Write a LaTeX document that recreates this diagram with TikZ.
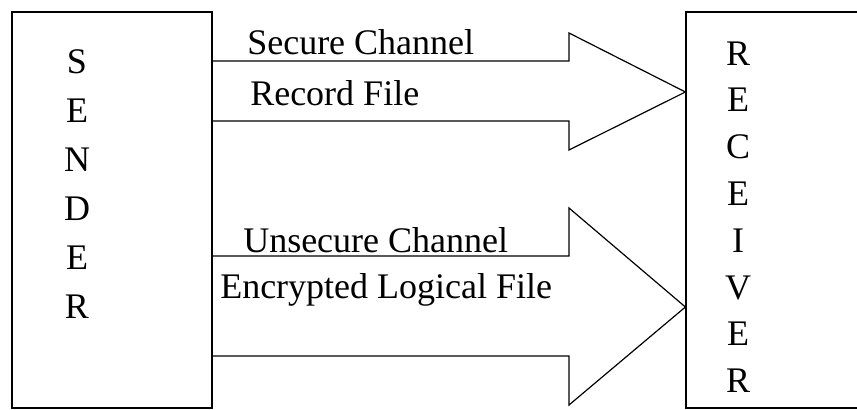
\documentclass[tikz,border=0pt]{standalone}
\usepackage{fontspec}
\setmainfont{Liberation Serif}
\begin{document}
\begin{tikzpicture}[x=0.75pt,y=-0.75pt,
  box/.style={draw, line width=0.9pt, rectangle, inner sep=0pt},
  flow/.style={draw, line width=0.9pt, line join=miter},
  letter/.style={anchor=base, inner sep=0pt, font=\fontsize{27}{32}\selectfont},
  label/.style={anchor=base west, inner sep=0pt, font=\fontsize{27}{32}\selectfont}]
  \path[use as bounding box] (0,0) rectangle (857,410);
  \clip (0,0) rectangle (857,410);

  % end boxes
  \node[box, minimum width=150pt, minimum height=297pt] (sender) at (112,210) {};
  \node[box, minimum width=138pt, minimum height=297pt] (receiver) at (778,210) {};

  % vertical lettering
  \foreach \c [count=\i from 0] in {S,E,N,D,E,R}
    \node[letter] (snd\i) at (77,74+48.8*\i) {\c};
  \foreach \c [count=\i from 0] in {R,E,C,E,I,V,E,R}
    \node[letter] (rcv\i) at (738,65+46.8*\i) {\c};

  % block arrow for the secure channel
  \coordinate (t1) at (sender.east |- 0,61);
  \coordinate (t2) at (sender.east |- 0,121);
  \coordinate (ttip) at (receiver.west |- 0,92);
  \draw[flow] (t1) -- (569,61) -- (569,33) -- (ttip) -- (569,150) -- (569,121) -- (t2);

  % block arrow for the unsecure channel
  \coordinate (b1) at (sender.east |- 0,256);
  \coordinate (b2) at (sender.east |- 0,356);
  \coordinate (btip) at (receiver.west |- 0,307);
  \draw[flow] (b1) -- (569,256) -- (569,208) -- (btip) -- (569,405) -- (569,356) -- (b2);

  % channel labels
  \node[label] (l1) at (247,55) {Secure Channel};
  \node[label] (l2) at (250,106) {Record File};
  \node[label] (l3) at (243,252) {Unsecure Channel};
  \node[label] (l4) at (220,298) {Encrypted Logical File};
\end{tikzpicture}
\end{document}
